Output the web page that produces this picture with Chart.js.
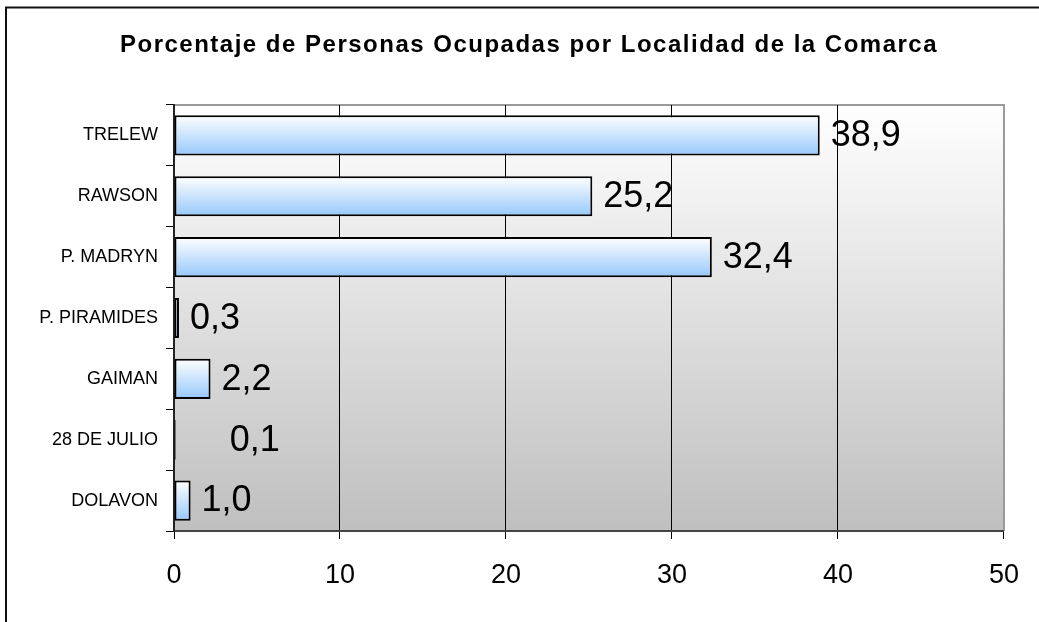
<!DOCTYPE html>
<html>
<head>
<meta charset="utf-8">
<script src="https://cdn.jsdelivr.net/npm/chart.js@4/dist/chart.umd.min.js"></script>
<style>
  html, body { margin: 0; padding: 0; background: #fff; }
  #wrap { width: 1039px; height: 622px; position: relative; }
</style>
</head>
<body>
<div id="wrap"><canvas id="chart"></canvas></div>
<script>
const localidades = ['TRELEW', 'RAWSON', 'P. MADRYN', 'P. PIRAMIDES', 'GAIMAN', '28 DE JULIO', 'DOLAVON'];
const porcentajes = [38.9, 25.2, 32.4, 0.3, 2.2, 0.1, 1.0];
const xTicks = [0, 10, 20, 30, 40, 50];
const titulo = 'Porcentaje de Personas Ocupadas por Localidad de la Comarca';

const FONT = "'Liberation Sans', Arial, sans-serif";
Chart.defaults.font.family = FONT;
Chart.defaults.color = '#000';

// fondo del área de trazado, marco exterior y título
const frame = {
    id: 'frame',
    beforeDraw(chart) {
        const { ctx, chartArea: a } = chart;
        ctx.save();
        ctx.fillStyle = '#fff';
        ctx.fillRect(0, 0, chart.width, chart.height);
        const g = ctx.createLinearGradient(0, a.top, 0, a.bottom);
        g.addColorStop(0, '#ffffff');
        g.addColorStop(1, '#bfbfbf');
        ctx.fillStyle = g;
        ctx.fillRect(a.left, a.top, a.right - a.left, a.bottom - a.top);
        ctx.strokeStyle = '#9a9a9a';
        ctx.lineWidth = 2;
        ctx.beginPath();
        ctx.moveTo(a.left, a.top);
        ctx.lineTo(a.right, a.top);
        ctx.lineTo(a.right, a.bottom);
        ctx.stroke();
        ctx.restore();
    },
    afterDraw(chart, args, opts) {
        const ctx = chart.ctx;
        ctx.save();
        ctx.strokeStyle = '#111';
        ctx.lineWidth = 2;
        ctx.beginPath();
        ctx.moveTo(6, chart.height);
        ctx.lineTo(6, 7.5);
        ctx.lineTo(chart.width, 7.5);
        ctx.stroke();

        ctx.font = 'bold 24px ' + FONT;
        ctx.letterSpacing = '1.5px';
        ctx.fillStyle = '#000';
        ctx.textAlign = 'center';
        ctx.textBaseline = 'middle';
        ctx.fillText(opts.text, 529, 45);
        ctx.restore();
    }
};

// etiquetas de valor a la derecha de cada barra
const valueLabels = {
    id: 'valueLabels',
    afterDatasetsDraw(chart, args, opts) {
        const ctx = chart.ctx;
        const meta = chart.getDatasetMeta(0);
        ctx.save();
        ctx.font = opts.font;
        ctx.fillStyle = '#000';
        ctx.textBaseline = 'middle';
        ctx.textAlign = 'left';
        meta.data.forEach((bar, i) => {
            const v = chart.data.datasets[0].data[i];
            const txt = v.toFixed(1).replace('.', ',');
            const shift = (opts.shift && opts.shift[i]) || 0;
            ctx.fillText(txt, bar.x + opts.offset + shift, bar.y + 1);
        });
        ctx.restore();
    }
};

function barFill(c) {
    const chart = c.chart;
    const y = chart.scales.y;
    if (!y || !chart.chartArea) return '#99ccff';
    const band = (y.bottom - y.top) / localidades.length;
    const cy = y.getPixelForValue(c.dataIndex);
    const h = band * 0.66 / 2;
    const g = chart.ctx.createLinearGradient(0, cy - h, 0, cy + h);
    g.addColorStop(0, '#ffffff');
    g.addColorStop(1, '#96c8fb');
    return g;
}

new Chart(document.getElementById('chart'), {
    type: 'bar',
    data: {
        labels: localidades,
        datasets: [{
            data: porcentajes,
            backgroundColor: barFill,
            borderColor: '#000',
            borderWidth: 2,
            borderSkipped: false,
            categoryPercentage: 1,
            barPercentage: 0.66
        }]
    },
    plugins: [frame, valueLabels],
    options: {
        indexAxis: 'y',
        responsive: true,
        maintainAspectRatio: false,
        animation: false,
        layout: { padding: { left: 0, right: 34, top: 105, bottom: 0 } },
        plugins: {
            legend: { display: false },
            tooltip: { enabled: false },
            title: { display: false },
            frame: { text: titulo },
            valueLabels: { font: '36px ' + FONT, offset: 11, shift: { 5: 43 } }
        },
        scales: {
            x: {
                min: 0,
                max: 50,
                afterBuildTicks(s) { s.ticks = xTicks.map(v => ({ value: v })); },
                afterFit(s) { s.height = 91; },
                grid: {
                    color: c => (c.tick && c.tick.value === 50 ? '#9a9a9a' : '#000'),
                    lineWidth: 1,
                    tickLength: 8,
                    tickColor: '#000'
                },
                border: { color: '#444', width: 2 },
                ticks: { font: { size: 27 }, color: '#000', padding: 20, maxRotation: 0 }
            },
            y: {
                afterFit(s) { s.width = 174; },
                grid: { drawOnChartArea: false, offset: true, tickLength: 8, tickColor: '#000' },
                border: { color: '#222', width: 2 },
                ticks: { font: { size: 18 }, color: '#000', padding: 8 }
            }
        }
    }
});
</script>
</body>
</html>
